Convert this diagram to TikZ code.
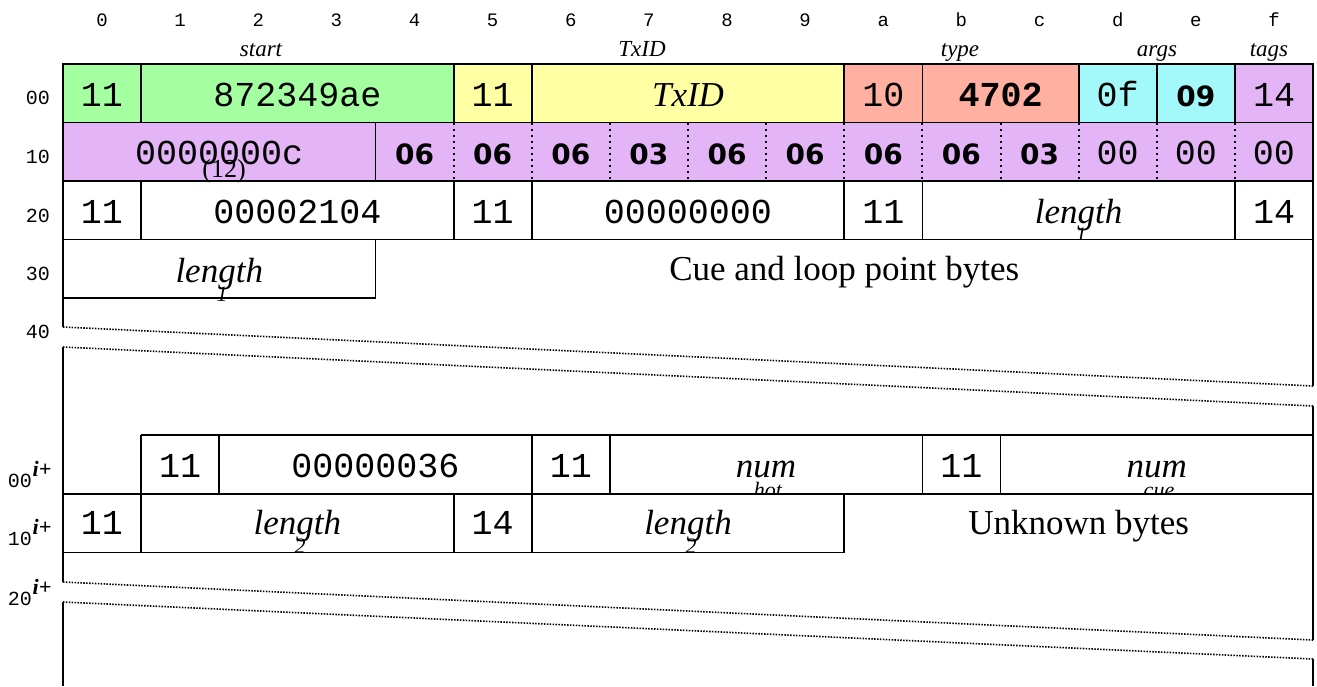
\documentclass[tikz,border=0pt]{standalone}
\usepackage{fontspec}
\setmainfont{Liberation Serif}
\setmonofont{Liberation Mono}
\newfontfamily\dvsans{DejaVu Sans}
\definecolor{cgreen}{HTML}{A3FFA0}
\definecolor{cyellow}{HTML}{FFFFA3}
\definecolor{csalmon}{HTML}{FFB0A0}
\definecolor{ccyan}{HTML}{A3F9F9}
\definecolor{cpurple}{HTML}{E3B5F7}
\tikzset{
  border/.style={line width=1.8pt},
  dotsep/.style={line width=2pt, dash pattern=on 2pt off 4pt},
  slant/.style={line width=1.6pt, dash pattern=on 1.5pt off 1.4pt},
  txt/.style={anchor=base, inner sep=0pt},
  mono/.style={txt, font=\fontsize{35}{40}\selectfont\ttfamily},
  monob/.style={txt, font=\fontsize{35}{40}\selectfont\ttfamily\bfseries},
  dvb/.style={txt, font=\fontsize{28}{33}\selectfont\dvsans\bfseries},
  ital/.style={txt, font=\fontsize{35}{40}\selectfont\itshape},
  roman/.style={txt, font=\fontsize{35}{40}\selectfont},
  paren/.style={txt, font=\fontsize{26}{30}\selectfont},
  subs/.style={txt, font=\fontsize{22}{24}\selectfont\itshape},
  hdr/.style={txt, font=\fontsize{19}{22}\selectfont\ttfamily},
  hdrlab/.style={txt, font=\fontsize{23}{26}\selectfont\itshape},
  rowlab/.style={txt, font=\fontsize{20}{22}\selectfont\ttfamily},
  suplab/.style={txt, font=\fontsize{22}{24}\selectfont\bfseries\itshape},
}
\begin{document}
\begin{tikzpicture}[x=1pt,y=-1pt]
\useasboundingbox (0,0) rectangle (1317,686);
% fills
\fill[cgreen] (63,64) rectangle (453.6,122.5);
\fill[cyellow] (453.6,64) rectangle (844.25,122.5);
\fill[csalmon] (844.25,64) rectangle (1078.6,122.5);
\fill[ccyan] (1078.6,64) rectangle (1234.9,122.5);
\fill[cpurple] (1234.9,64) rectangle (1313,122.5);
\fill[cpurple] (63,122.5) rectangle (1313,181);
% header digits
\foreach \i/\t in {0/0,1/1,2/2,3/3,4/4,5/5,6/6,7/7,8/8,9/9,10/a,11/b,12/c,13/d,14/e,15/f}
  \node[hdr] (hd\i) at ({63+78.125*(\i+0.5)},26) {\t};
\node[hdrlab] (hstart) at (261,56) {start};
\node[hdrlab] (htxid) at (642,56) {TxID};
\node[hdrlab] (htype) at (960,56) {type};
\node[hdrlab] (hargs) at (1157,56) {args};
\node[hdrlab] (htags) at (1269,56) {tags};
% row labels
\node[rowlab] (l00) at (38,104) {00};
\node[rowlab] (l10) at (38,163) {10};
\node[rowlab] (l20) at (38,222) {20};
\node[rowlab] (l30) at (38,280) {30};
\node[rowlab] (l40) at (38,338) {40};
\node[rowlab] (li00) at (20,487) {00};
\node[suplab] (li00s) at (42,476) {i+};
\node[rowlab] (li10) at (20,545) {10};
\node[suplab] (li10s) at (42,534) {i+};
\node[rowlab] (li20) at (20,605) {20};
\node[suplab] (li20s) at (42,594) {i+};
% row 00
\node[mono] (r0a) at (102,106) {11};
\node[mono] (r0b) at (297.4,106) {872349ae};
\node[mono] (r0c) at (492.7,106) {11};
\node[ital] (r0d) at (688,106) {TxID};
\node[mono] (r0e) at (883.3,106) {10};
\node[monob] (r0f) at (1000.5,106) {4702};
\node[mono] (r0g) at (1117.7,106) {0f};
\node[dvb] (r0h) at (1195.8,106) {09};
\node[mono] (r0i) at (1274,106) {14};
% row 10
\node[mono] (r1a) at (219.25,164.5) {0000000c};
\node[paren] (r1p) at (224,177) {(12)};
\foreach \i/\t in {4/06,5/06,6/06,7/03,8/06,9/06,10/06,11/06,12/03}
  \node[dvb] (r1b\i) at ({63+78.125*(\i+0.5)},164.5) {\t};
\foreach \i in {13,14,15}
  \node[mono] (r1c\i) at ({63+78.125*(\i+0.5)},164.5) {00};
% row 20
\node[mono] (r2a) at (102,223) {11};
\node[mono] (r2b) at (297.4,223) {00002104};
\node[mono] (r2c) at (492.7,223) {11};
\node[mono] (r2d) at (688,223) {00000000};
\node[mono] (r2e) at (883.3,223) {11};
\node[ital] (r2f) at (1078.6,223) {length};
\node[subs] (r2fs) at (1081,242) {1};
\node[mono] (r2g) at (1274,223) {14};
\fill[white] (63,239.5) rectangle (1313,298);
% row 30
\node[ital] (r3a) at (219.25,282) {length};
\node[subs] (r3as) at (222,301) {1};
\node[roman] (r3b) at (844.25,280) {Cue and loop point bytes};
% row 00 i+
\node[mono] (s0a) at (180.2,477) {11};
\node[mono] (s0b) at (375.5,477) {00000036};
\node[mono] (s0c) at (570.8,477) {11};
\node[ital] (s0d) at (766.1,477) {num};
\node[subs] (s0ds) at (768,497) {hot};
\node[mono] (s0e) at (961.4,477) {11};
\node[ital] (s0f) at (1156.75,477) {num};
\node[subs] (s0fs) at (1159,497) {cue};
\fill[white] (63,494) rectangle (1313,552.5);
% row 10 i+
\node[mono] (s1a) at (102,534) {11};
\node[ital] (s1b) at (297.4,534) {length};
\node[subs] (s1bs) at (300,553) {2};
\node[mono] (s1c) at (492.7,534) {14};
\node[ital] (s1d) at (688,534) {length};
\node[subs] (s1ds) at (691,553) {2};
\node[roman] (s1e) at (1078.6,534) {Unknown bytes};
% lines
\draw[border] (63,327) -- (63,64) -- (1313,64) -- (1313,386);
\draw[border] (63,122.5) -- (1313,122.5);
\foreach \x in {141.1,453.6,531.75,844.25,922.4,1078.6,1156.75,1234.9}
  \draw[border] (\x,64) -- (\x,122.5);
\draw[border] (375.5,122.5) -- (375.5,181);
\foreach \x in {453.6,531.75,609.9,688,766.1,844.25,922.4,1000.5,1078.6,1156.75,1234.9}
  \draw[dotsep] (\x,122.5) -- (\x,181);
\draw[border] (63,181) -- (1313,181);
\foreach \x in {141.1,453.6,531.75,844.25,922.4,1234.9}
  \draw[border] (\x,181) -- (\x,239.5);
\draw[border] (63,239.5) -- (1313,239.5);
\draw[border] (375.5,239.5) -- (375.5,298) -- (63,298);
\draw[slant] (63,327) -- (1313,386);
\draw[slant] (63,347) -- (1313,406);
\draw[border] (63,347) -- (63,582);
\draw[border] (1313,406) -- (1313,640);
\draw[border] (141.1,435) -- (1313,435);
\foreach \x in {141.1,219.25,531.75,609.9,922.4,1000.5}
  \draw[border] (\x,435) -- (\x,494);
\draw[border] (63,494) -- (1313,494);
\foreach \x in {141.1,453.6,531.75}
  \draw[border] (\x,494) -- (\x,552.5);
\draw[border] (63,552.5) -- (844.25,552.5) -- (844.25,494);
\draw[slant] (63,582) -- (1313,640);
\draw[slant] (63,602) -- (1313,659);
\draw[border] (63,602) -- (63,686);
\draw[border] (1313,659) -- (1313,686);
\end{tikzpicture}
\end{document}
